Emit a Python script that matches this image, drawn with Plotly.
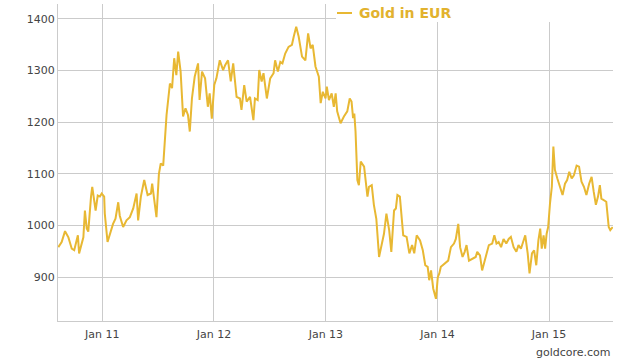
import plotly.graph_objects as go

dates = [
"2010-08-10","2010-08-21","2010-09-01","2010-09-12","2010-09-23","2010-10-01","2010-10-13","2010-10-17","2010-10-31","2010-11-05",
"2010-11-11","2010-11-16","2010-11-25","2010-11-29","2010-12-10","2010-12-17","2010-12-24","2010-12-30",
"2011-01-07","2011-01-09","2011-01-18","2011-01-26","2011-02-05","2011-02-13","2011-02-22","2011-02-27","2011-03-10","2011-03-21",
"2011-04-01","2011-04-12","2011-04-23","2011-04-28","2011-05-07","2011-05-18","2011-05-29","2011-06-09","2011-06-13","2011-06-27",
"2011-07-05","2011-07-11","2011-07-19","2011-07-30","2011-08-10","2011-08-17","2011-08-24","2011-08-31","2011-09-06","2011-09-14",
"2011-09-22","2011-09-30","2011-10-08","2011-10-14","2011-10-21","2011-10-30","2011-11-10","2011-11-15","2011-11-23","2011-12-03",
"2011-12-12","2011-12-18","2011-12-25",
"2012-01-02","2012-01-09","2012-01-20","2012-01-31","2012-02-07","2012-02-16","2012-02-25","2012-03-04","2012-03-15","2012-03-26",
"2012-03-31","2012-04-09","2012-04-17","2012-04-28","2012-05-09","2012-05-14","2012-05-23","2012-05-28","2012-06-05","2012-06-11",
"2012-06-22","2012-07-03","2012-07-14","2012-07-19","2012-07-28","2012-08-05","2012-08-12","2012-08-21","2012-09-01","2012-09-12",
"2012-09-18","2012-09-26","2012-10-04","2012-10-15","2012-10-26","2012-11-04","2012-11-12","2012-11-19","2012-11-28","2012-12-09",
"2012-12-15","2012-12-22","2012-12-31",
"2013-01-04","2013-01-11","2013-01-20","2013-01-27","2013-02-02","2013-02-07","2013-02-18","2013-03-01","2013-03-12","2013-03-20",
"2013-03-26","2013-03-31","2013-04-04","2013-04-08","2013-04-14","2013-04-19","2013-04-25","2013-05-06","2013-05-17","2013-05-22",
"2013-05-31","2013-06-07","2013-06-15","2013-06-24","2013-07-03","2013-07-10","2013-07-18","2013-07-27","2013-08-03","2013-08-12",
"2013-08-18","2013-08-23","2013-08-31","2013-09-11","2013-09-22","2013-10-01","2013-10-10","2013-10-17","2013-10-25","2013-11-05",
"2013-11-14","2013-11-22","2013-11-30","2013-12-05","2013-12-11","2013-12-18","2013-12-27",
"2014-01-02","2014-01-07","2014-01-12","2014-01-18","2014-01-26","2014-02-05","2014-02-14","2014-02-24","2014-03-02","2014-03-10",
"2014-03-16","2014-03-24","2014-03-31","2014-04-06","2014-04-14","2014-04-25","2014-05-06","2014-05-11","2014-05-20","2014-05-27",
"2014-06-07","2014-06-18","2014-06-29","2014-07-06","2014-07-13","2014-07-20","2014-07-28","2014-08-05","2014-08-14","2014-08-22",
"2014-08-29","2014-09-07","2014-09-16","2014-09-23","2014-10-01","2014-10-09","2014-10-15","2014-10-23","2014-10-29","2014-11-06",
"2014-11-13","2014-11-20","2014-11-27","2014-12-03","2014-12-08","2014-12-14","2014-12-19","2014-12-24","2014-12-29",
"2015-01-04","2015-01-10","2015-01-15","2015-01-20","2015-01-28","2015-02-06","2015-02-14","2015-02-22","2015-03-01","2015-03-08",
"2015-03-16","2015-03-23","2015-04-01","2015-04-09","2015-04-17","2015-04-25","2015-05-03","2015-05-12","2015-05-20","2015-05-27",
"2015-06-03","2015-06-10","2015-06-16","2015-06-21","2015-06-29","2015-07-07","2015-07-15","2015-07-20","2015-07-28",
]

gold_eur = [
958,968,989,977,955,952,981,946,977,1029,
994,988,1056,1075,1029,1058,1056,1062,
1056,1023,968,984,1003,1013,1045,1019,997,1010,
1016,1033,1062,1010,1056,1088,1059,1062,1081,1016,
1100,1120,1116,1214,1275,1266,1324,1291,1337,1298,
1211,1227,1214,1182,1246,1288,1314,1243,1298,1285,
1230,1256,1207,
1272,1285,1320,1301,1311,1320,1279,1314,1249,1246,
1224,1272,1240,1249,1204,1246,1243,1301,1279,1295,
1246,1285,1295,1320,1298,1317,1314,1333,1346,1350,
1366,1385,1366,1327,1320,1372,1343,1350,1308,1288,
1237,1259,1246,
1269,1243,1256,1230,1256,1221,1198,1211,1221,1246,
1240,1208,1217,1182,1088,1078,1124,1114,1056,1075,
1078,1040,1013,939,962,984,1023,991,949,1029,
1033,1059,1056,981,978,946,962,946,981,971,
952,923,920,894,913,878,858,
900,907,920,923,927,932,958,965,974,1003,
958,939,949,962,932,936,939,949,942,913,
939,962,965,981,965,968,958,974,965,974,
978,958,949,962,955,968,981,946,907,946,
952,923,971,994,955,981,955,984,997,
1043,1075,1153,1108,1091,1075,1059,1081,1088,1104,
1091,1097,1116,1114,1085,1075,1059,1081,1094,1065,
1040,1056,1078,1052,1049,1046,997,991,997,
]

y_ticks = [900, 1000, 1100, 1200, 1300, 1400]
x_ticks = ["2011-01-01", "2012-01-01", "2013-01-01", "2014-01-01", "2015-01-01"]
x_tick_labels = ["Jan 11", "Jan 12", "Jan 13", "Jan 14", "Jan 15"]
series_name = "Gold in EUR"

GOLD = "#E8B833"
GRID = "#CBCBCB"
TXT = "#444444"
FONT = "DejaVu Sans"

fig = go.Figure()
fig.add_trace(go.Scatter(
    x=dates, y=gold_eur, mode="lines", name=series_name,
    line=dict(color=GOLD, width=2), showlegend=False,
))

fig.update_layout(
    width=630, height=364,
    margin=dict(l=58, r=17, t=4, b=43),
    paper_bgcolor="white", plot_bgcolor="white",
    font=dict(family=FONT, size=11, color=TXT),
    xaxis=dict(
        range=["2010-08-09", "2015-07-29"],
        tickvals=x_ticks, ticktext=x_tick_labels,
        showgrid=True, gridcolor=GRID, gridwidth=1,
        showline=True, linecolor=GRID, linewidth=1,
        ticks="", zeroline=False, ticklabelstandoff=3,
        tickfont=dict(family=FONT, size=11, color=TXT),
    ),
    yaxis=dict(
        range=[815, 1429],
        tickvals=y_ticks,
        showgrid=True, gridcolor=GRID, gridwidth=1,
        showline=True, linecolor=GRID, linewidth=1,
        ticks="", zeroline=False,
        tickfont=dict(family=FONT, size=11, color=TXT),
    ),
    shapes=[
        dict(type="rect", xref="paper", yref="paper", x0=0.5009, x1=1.03, y0=0.943, y1=1.02,
             fillcolor="white", line=dict(width=0), layer="above"),
        dict(type="line", xref="paper", yref="paper", x0=0.5027, x1=0.5297, y0=0.9716, y1=0.9716,
             line=dict(color=GOLD, width=2), layer="above"),
    ],
    annotations=[
        dict(text="<b>" + series_name + "</b>", xref="paper", yref="paper", x=0.5387, y=0.9716,
             xanchor="left", yanchor="middle", showarrow=False,
             font=dict(family=FONT, size=14, color="#E2B22E")),
        dict(text="goldcore.com", xref="paper", yref="paper", x=1.0, y=-0.1,
             xanchor="right", yanchor="middle", showarrow=False,
             font=dict(family=FONT, size=11, color=TXT)),
    ],
)

fig.write_html("out.html", config={"displayModeBar": False},
               post_script="document.body.style.margin='0';document.body.style.overflow='hidden';")
